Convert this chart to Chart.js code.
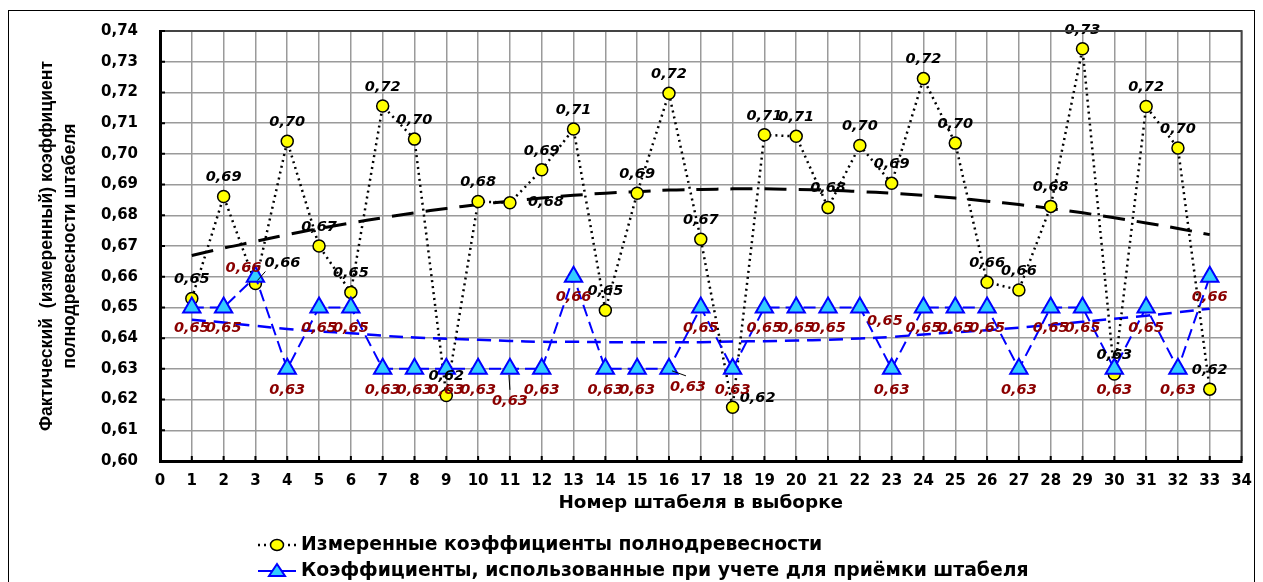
<!DOCTYPE html>
<html>
<head>
<meta charset="utf-8">
<script src="https://cdn.jsdelivr.net/npm/chart.js@4.4.1/dist/chart.umd.min.js"></script>
<style>
    html, body { margin: 0; padding: 0; background: #fff; }
</style>
</head>
<body>
<canvas id="stackChart" width="1263" height="582"></canvas>
<script>
const stackNumbers = [1, 2, 3, 4, 5, 6, 7, 8, 9, 10, 11, 12, 13, 14, 15, 16, 17, 18, 19, 20, 21, 22, 23, 24, 25, 26, 27, 28, 29, 30, 31, 32, 33];
const measuredCoef = [0.6529, 0.6861, 0.6578, 0.7041, 0.6700, 0.6549, 0.7156, 0.7048, 0.6213, 0.6845, 0.6841, 0.6948, 0.7081, 0.6491, 0.6872, 0.7197, 0.6722, 0.6175, 0.7062, 0.7057, 0.6825, 0.7027, 0.6904, 0.7245, 0.7035, 0.6582, 0.6557, 0.6829, 0.7342, 0.6283, 0.7154, 0.7019, 0.6234];
const usedCoef = [0.65, 0.65, 0.66, 0.63, 0.65, 0.65, 0.63, 0.63, 0.63, 0.63, 0.63, 0.63, 0.66, 0.63, 0.63, 0.63, 0.65, 0.63, 0.65, 0.65, 0.65, 0.65, 0.63, 0.65, 0.65, 0.65, 0.63, 0.65, 0.65, 0.63, 0.65, 0.63, 0.66];
// trend lines
const measuredTrend = [0.6669, 0.6693, 0.6715, 0.6737, 0.6757, 0.6775, 0.6792, 0.6808, 0.6822, 0.6835, 0.6846, 0.6856, 0.6865, 0.6872, 0.6877, 0.6882, 0.6884, 0.6886, 0.6886, 0.6884, 0.6882, 0.6877, 0.6872, 0.6865, 0.6856, 0.6846, 0.6835, 0.6822, 0.6808, 0.6792, 0.6775, 0.6757, 0.6737];
const usedTrend = [0.6460, 0.6451, 0.6440, 0.6430, 0.6422, 0.6416, 0.6408, 0.6402, 0.6398, 0.6395, 0.6391, 0.6388, 0.6388, 0.6387, 0.6387, 0.6387, 0.6387, 0.6389, 0.6390, 0.6392, 0.6395, 0.6399, 0.6404, 0.6412, 0.6419, 0.6426, 0.6434, 0.6443, 0.6453, 0.6463, 0.6473, 0.6484, 0.6496];
const xTickValues = [0, 1, 2, 3, 4, 5, 6, 7, 8, 9, 10, 11, 12, 13, 14, 15, 16, 17, 18, 19, 20, 21, 22, 23, 24, 25, 26, 27, 28, 29, 30, 31, 32, 33, 34];
const yTickValues = [0.60, 0.61, 0.62, 0.63, 0.64, 0.65, 0.66, 0.67, 0.68, 0.69, 0.70, 0.71, 0.72, 0.73, 0.74];

const measuredName = 'Измеренные коэффициенты полнодревесности';
const usedName = 'Коэффициенты, использованные при учете для приёмки штабеля';
const xTitle = 'Номер штабеля в выборке';
const yTitle = ['Фактический  (измеренный) коэффициент', 'полнодревесности штабеля'];

// label nudges (pixels) for the few labels that are not in the default spot
const measuredLabelShift = { 3: [27, -20], 11: [36, 0], 18: [25, -9] };
const usedLabelShift = { 3: [-12, -8], 11: [0, 32], 16: [19, 18], 22: [25, 14] };

function fmt(v) {
    return (Math.round(v * 100) / 100).toFixed(2).replace('.', ',');
}

function toPoints(values) {
    return values.map((v, i) => ({ x: stackNumbers[i], y: v }));
}

const pointLabels = {
    id: 'pointLabels',
    afterDatasetsDraw(chart) {
        const ctx = chart.ctx;
        ctx.save();
        ctx.font = 'italic bold 14.5px "DejaVu Sans"';
        ctx.textAlign = 'center';
        ctx.textBaseline = 'middle';

        const mMeta = chart.getDatasetMeta(1);
        ctx.fillStyle = '#000';
        mMeta.data.forEach((pt, i) => {
            const s = measuredLabelShift[i + 1] || [0, -19];
            ctx.fillText(fmt(measuredCoef[i]), pt.x + s[0], pt.y + s[1]);
        });
        // leader line for label 3
        const p3 = mMeta.data[2];
        ctx.strokeStyle = '#000';
        ctx.lineWidth = 1;
        ctx.beginPath();
        ctx.moveTo(p3.x + 10, p3.y - 12);
        ctx.lineTo(p3.x + 2, p3.y - 3);
        ctx.stroke();

        const uMeta = chart.getDatasetMeta(0);
        ctx.fillStyle = '#8B0000';
        uMeta.data.forEach((pt, i) => {
            const s = usedLabelShift[i + 1] || [0, 21];
            ctx.fillText(fmt(usedCoef[i]), pt.x + s[0], pt.y + s[1]);
        });
        const u11 = uMeta.data[10];
        const u16 = uMeta.data[15];
        ctx.strokeStyle = '#000';
        ctx.beginPath();
        ctx.moveTo(u11.x - 1, u11.y + 6);
        ctx.lineTo(u11.x, u11.y + 21);
        ctx.moveTo(u16.x + 3, u16.y + 2);
        ctx.lineTo(u16.x + 17, u16.y + 7);
        ctx.stroke();
        ctx.restore();
    },
    afterDraw(chart) {
        const ctx = chart.ctx;
        const area = chart.chartArea;
        const xs = chart.scales.x;
        const ys = chart.scales.y;
        ctx.save();

        // top and right frame of the plot
        ctx.strokeStyle = '#444';
        ctx.lineWidth = 2;
        ctx.beginPath();
        ctx.moveTo(area.left, area.top);
        ctx.lineTo(area.right, area.top);
        ctx.lineTo(area.right, area.bottom);
        ctx.stroke();

        // inside tick marks
        ctx.strokeStyle = '#000';
        ctx.lineWidth = 2;
        ctx.beginPath();
        xTickValues.forEach(v => {
            const px = xs.getPixelForValue(v);
            ctx.moveTo(px, area.bottom);
            ctx.lineTo(px, area.bottom - 5);
        });
        yTickValues.forEach(v => {
            const py = ys.getPixelForValue(v);
            ctx.moveTo(area.left, py);
            ctx.lineTo(area.left + 5, py);
        });
        ctx.stroke();

        // outer frame
        ctx.lineWidth = 1;
        ctx.strokeRect(8.5, 10.5, 1246, 600);

        // axis titles
        ctx.fillStyle = '#000';
        ctx.textAlign = 'center';
        ctx.textBaseline = 'middle';
        ctx.font = 'bold 18.4px "DejaVu Sans"';
        ctx.fillText(xTitle, (area.left + area.right) / 2, 503);

        ctx.save();
        ctx.font = 'bold 17.6px "Liberation Sans"';
        ctx.translate(58, (area.top + area.bottom) / 2);
        ctx.rotate(-Math.PI / 2);
        ctx.fillText(yTitle[0], 0, -11);
        ctx.fillText(yTitle[1], 0, 12);
        ctx.restore();

        // legend
        const lx0 = 258, lx1 = 296, cx = 277;
        const r1 = 545, r2 = 571;
        ctx.strokeStyle = '#000';
        ctx.lineWidth = 2.5;
        ctx.setLineDash([2, 4]);
        ctx.beginPath();
        ctx.moveTo(lx0, r1);
        ctx.lineTo(lx1, r1);
        ctx.stroke();
        ctx.setLineDash([]);
        ctx.fillStyle = '#FFFF00';
        ctx.lineWidth = 1.5;
        ctx.beginPath();
        ctx.ellipse(cx, r1, 6.5, 5.5, 0, 0, Math.PI * 2);
        ctx.fill();
        ctx.stroke();

        ctx.strokeStyle = '#0000FF';
        ctx.lineWidth = 2;
        ctx.beginPath();
        ctx.moveTo(lx0, r2);
        ctx.lineTo(lx1, r2);
        ctx.stroke();
        ctx.fillStyle = '#33CCFF';
        ctx.beginPath();
        ctx.moveTo(cx, r2 - 7);
        ctx.lineTo(cx + 8, r2 + 5);
        ctx.lineTo(cx - 8, r2 + 5);
        ctx.closePath();
        ctx.fill();
        ctx.stroke();

        ctx.fillStyle = '#000';
        ctx.textAlign = 'left';
        ctx.font = 'bold 18.8px "DejaVu Sans"';
        ctx.fillText(measuredName, 301, r1);
        ctx.fillText(usedName, 301, r2);
        ctx.restore();
    }
};

const chartCanvas = document.getElementById('stackChart');

new Chart(chartCanvas, {
    type: 'line',
    data: {
        datasets: [
            {
                label: usedName,
                data: toPoints(usedCoef),
                borderColor: '#0000FF',
                borderWidth: 2,
                borderDash: [12, 6],
                pointStyle: 'triangle',
                pointRadius: 10,
                pointBackgroundColor: '#33CCFF',
                pointBorderColor: '#0000FF',
                pointBorderWidth: 2,
                tension: 0,
                order: 0
            },
            {
                label: measuredName,
                data: toPoints(measuredCoef),
                borderColor: '#000',
                borderWidth: 2.5,
                borderDash: [2, 4],
                pointStyle: 'circle',
                pointRadius: 6,
                pointBackgroundColor: '#FFFF00',
                pointBorderColor: '#000',
                pointBorderWidth: 1.5,
                tension: 0,
                order: 1
            },
            {
                label: 'trend measured',
                data: toPoints(measuredTrend),
                borderColor: '#000',
                borderWidth: 3,
                borderDash: [22, 12],
                pointRadius: 0,
                tension: 0.4,
                order: 2
            },
            {
                label: 'trend used',
                data: toPoints(usedTrend),
                borderColor: '#0000FF',
                borderWidth: 2.5,
                borderDash: [14, 8],
                pointRadius: 0,
                tension: 0.4,
                order: 3
            }
        ]
    },
    options: {
        responsive: false,
        animation: false,
        layout: {
            padding: { top: 27, right: 18, left: 0, bottom: 0 }
        },
        plugins: {
            legend: { display: false },
            tooltip: { enabled: false }
        },
        scales: {
            x: {
                type: 'linear',
                min: 0,
                max: 34,
                afterBuildTicks: (s) => { s.ticks = xTickValues.map(v => ({ value: v })); },
                afterFit: (s) => { s.height = 121; },
                ticks: {
                    autoSkip: false,
                    maxRotation: 0,
                    padding: 11,
                    color: '#000',
                    font: { family: 'DejaVu Sans', size: 15, weight: 'bold' }
                },
                grid: { color: '#9a9a9a', lineWidth: 1.5, drawTicks: false },
                border: { color: '#000', width: 3 }
            },
            y: {
                min: 0.60,
                max: 0.74,
                afterBuildTicks: (s) => { s.ticks = yTickValues.map(v => ({ value: v })); },
                afterFit: (s) => { s.width = 160; },
                ticks: {
                    padding: 22,
                    color: '#000',
                    font: { family: 'DejaVu Sans', size: 15, weight: 'bold' },
                    callback: (value) => fmt(value)
                },
                grid: { color: '#9a9a9a', lineWidth: 1.5, drawTicks: false },
                border: { color: '#000', width: 3 }
            }
        }
    },
    plugins: [pointLabels]
});
</script>
</body>
</html>
